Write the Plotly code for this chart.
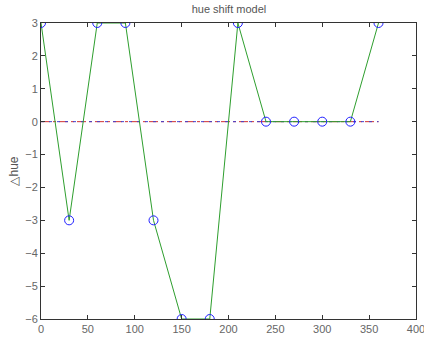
import plotly.graph_objects as go

hue_deg = [0, 30, 60, 90, 120, 150, 180, 210, 240, 270, 300, 330, 360]
delta_hue = [3, -3, 3, 3, -3, -6, -6, 3, 0, 0, 0, 0, 3]
zero_x = [0, 360]
zero_y = [0, 0]
x_ticks = [0, 50, 100, 150, 200, 250, 300, 350, 400]
y_ticks = [-6, -5, -4, -3, -2, -1, 0, 1, 2, 3]

fig = go.Figure()
fig.add_trace(go.Scatter(x=zero_x, y=zero_y, mode="lines",
                         line=dict(color="#d03030", width=1, dash="dashdot"), hoverinfo="skip"))
fig.add_trace(go.Scatter(x=zero_x, y=zero_y, mode="lines",
                         line=dict(color="#4040d0", width=1, dash="3px,5px"), hoverinfo="skip"))
fig.add_trace(go.Scatter(x=hue_deg, y=delta_hue, mode="lines",
                         line=dict(color="#2e9e2e", width=1)))
fig.add_trace(go.Scatter(x=hue_deg, y=delta_hue, mode="markers",
                         marker=dict(symbol="circle-open", size=9, color="#2020ff",
                                     line=dict(width=1, color="#2020ff"))))

axis_common = dict(showgrid=False, zeroline=False, ticks="inside", ticklen=4,
                   tickcolor="#333", linecolor="#333", linewidth=1, mirror="ticks",
                   automargin=False, ticklabeloverflow="allow",
                   tickfont=dict(family="Liberation Sans, Arial", size=11, color="#666"))
fig.update_layout(
    width=424, height=341,
    margin=dict(l=41, r=8, t=23, b=22),
    paper_bgcolor="white", plot_bgcolor="white",
    showlegend=False,
    title=dict(text="hue shift model", x=0.54, xanchor="center", y=0.985, yanchor="top",
               automargin=False,
               font=dict(family="Liberation Sans, Arial", size=11, color="#555")),
    xaxis=dict(range=[0, 400], tickvals=x_ticks, **axis_common),
    yaxis=dict(range=[-6, 3], tickvals=y_ticks,
               title=dict(text="\u25b3hue", standoff=4,
                          font=dict(family="Liberation Sans, Arial", size=12, color="#555")),
               **axis_common),
)
fig.write_html("out.html", config={"displayModeBar": False},
               post_script="document.body.style.margin='0';")
